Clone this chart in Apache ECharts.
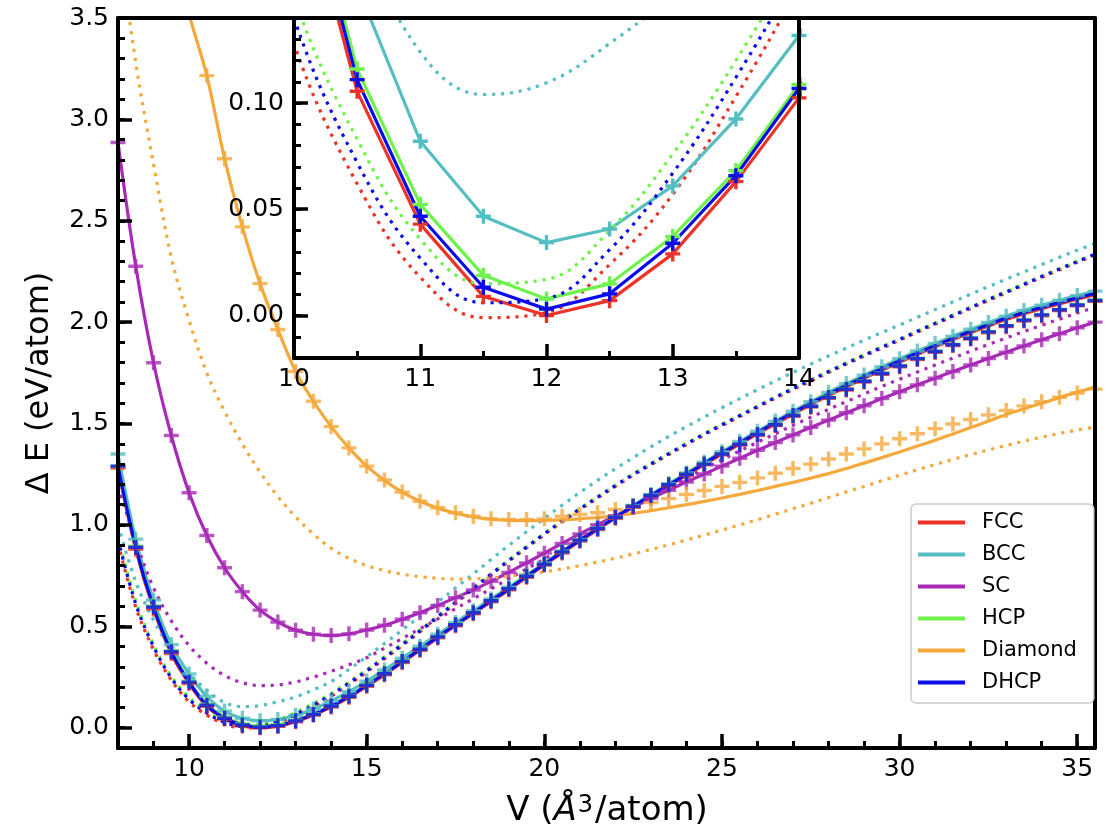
<!DOCTYPE html>
<html><head><meta charset="utf-8">
<script src="https://cdn.jsdelivr.net/npm/echarts@6/dist/echarts.min.js"></script>
<style>html,body{margin:0;padding:0;background:#fff}#c{width:1110px;height:834px}</style>
</head><body><div id="c"></div>
<script>
// Volume grid (Å^3/atom)
const V = [8, 8.5, 9, 9.5, 10, 10.5, 11, 11.5, 12, 12.5, 13, 13.5, 14, 14.5, 15, 15.5, 16, 16.5, 17, 17.5,
  18, 18.5, 19, 19.5, 20, 20.5, 21, 21.5, 22, 22.5, 23, 23.5, 24, 24.5, 25, 25.5, 26, 26.5, 27, 27.5,
  28, 28.5, 29, 29.5, 30, 30.5, 31, 31.5, 32, 32.5, 33, 33.5, 34, 34.5, 35, 35.5];

// Solid lines (main plot)
const FCC_fit = [1.28, 0.88, 0.585, 0.366, 0.218, 0.1055, 0.043, 0.009, 0.0, 0.007, 0.029, 0.063, 0.1024, 0.15, 0.204, 0.261, 0.321, 0.382, 0.443, 0.503, 0.562, 0.621, 0.68, 0.742, 0.802, 0.862, 0.92, 0.977, 1.033, 1.087, 1.14, 1.193, 1.245, 1.297, 1.349, 1.399, 1.449, 1.498, 1.546, 1.593, 1.638, 1.681, 1.723, 1.763, 1.803, 1.841, 1.878, 1.914, 1.948, 1.981, 2.013, 2.041, 2.066, 2.09, 2.113, 2.135];
const BCC_fit = [1.35, 0.93, 0.63, 0.41, 0.265, 0.155, 0.082, 0.0467, 0.0343, 0.0407, 0.061, 0.0925, 0.1318, 0.178, 0.23, 0.285, 0.343, 0.402, 0.461, 0.519, 0.577, 0.635, 0.693, 0.753, 0.812, 0.87, 0.928, 0.985, 1.041, 1.096, 1.15, 1.203, 1.256, 1.309, 1.361, 1.412, 1.462, 1.512, 1.561, 1.608, 1.654, 1.697, 1.739, 1.78, 1.82, 1.858, 1.895, 1.931, 1.965, 1.998, 2.03, 2.058, 2.084, 2.108, 2.131, 2.153];
const SC_fit = [2.886, 2.276, 1.80, 1.441, 1.159, 0.948, 0.789, 0.671, 0.58, 0.521, 0.481, 0.461, 0.455, 0.463, 0.482, 0.505, 0.535, 0.567, 0.603, 0.641, 0.679, 0.722, 0.766, 0.813, 0.861, 0.909, 0.956, 1.001, 1.045, 1.088, 1.13, 1.171, 1.212, 1.251, 1.29, 1.329, 1.368, 1.406, 1.444, 1.481, 1.517, 1.553, 1.588, 1.623, 1.657, 1.691, 1.724, 1.757, 1.789, 1.821, 1.852, 1.883, 1.913, 1.943, 1.972, 2.0];
const HCP_fit = [1.29, 0.895, 0.6, 0.38, 0.23, 0.116, 0.0523, 0.0189, 0.0078, 0.0149, 0.0372, 0.0682, 0.1087, 0.157, 0.211, 0.268, 0.328, 0.389, 0.45, 0.51, 0.569, 0.628, 0.687, 0.749, 0.808, 0.869, 0.927, 0.984, 1.04, 1.094, 1.147, 1.2, 1.252, 1.305, 1.357, 1.407, 1.457, 1.507, 1.555, 1.602, 1.647, 1.69, 1.732, 1.772, 1.812, 1.85, 1.887, 1.923, 1.957, 1.99, 2.022, 2.05, 2.075, 2.099, 2.122, 2.144];
const Diamond_fit = [null, null, null, 3.9, 3.52, 3.216, 2.806, 2.47, 2.19, 1.964, 1.757, 1.61, 1.485, 1.38, 1.29, 1.22, 1.162, 1.117, 1.083, 1.058, 1.04, 1.029, 1.023, 1.021, 1.022, 1.025, 1.03, 1.037, 1.045, 1.057, 1.07, 1.085, 1.1, 1.116, 1.133, 1.151, 1.17, 1.19, 1.21, 1.231, 1.253, 1.278, 1.305, 1.332, 1.36, 1.389, 1.418, 1.449, 1.48, 1.512, 1.545, 1.573, 1.6, 1.628, 1.655, 1.68];
const DHCP_fit = [1.29, 0.89, 0.595, 0.375, 0.225, 0.111, 0.0467, 0.0133, 0.003, 0.0102, 0.034, 0.0658, 0.1068, 0.155, 0.209, 0.266, 0.326, 0.387, 0.448, 0.508, 0.567, 0.626, 0.685, 0.747, 0.806, 0.867, 0.925, 0.982, 1.038, 1.092, 1.145, 1.198, 1.25, 1.303, 1.355, 1.405, 1.455, 1.505, 1.553, 1.6, 1.645, 1.688, 1.73, 1.77, 1.81, 1.848, 1.885, 1.921, 1.955, 1.988, 2.02, 2.048, 2.073, 2.097, 2.12, 2.142];

// "+" markers (reference points; also the solid lines of the inset)
const FCC_dft = [1.28, 0.88, 0.585, 0.366, 0.218, 0.1055, 0.043, 0.009, 0.0, 0.007, 0.029, 0.063, 0.1024, 0.15, 0.204, 0.261, 0.321, 0.382, 0.443, 0.503, 0.562, 0.621, 0.68, 0.742, 0.802, 0.862, 0.92, 0.977, 1.033, 1.087, 1.14, 1.193, 1.245, 1.296, 1.346, 1.394, 1.442, 1.49, 1.536, 1.581, 1.624, 1.665, 1.705, 1.743, 1.78, 1.816, 1.851, 1.885, 1.917, 1.948, 1.978, 2.006, 2.032, 2.057, 2.081, 2.103];
const BCC_dft = [1.35, 0.93, 0.63, 0.41, 0.265, 0.155, 0.082, 0.0467, 0.0343, 0.0407, 0.061, 0.0925, 0.1318, 0.178, 0.23, 0.285, 0.343, 0.402, 0.461, 0.519, 0.577, 0.635, 0.693, 0.753, 0.812, 0.87, 0.928, 0.985, 1.041, 1.096, 1.15, 1.203, 1.256, 1.309, 1.361, 1.412, 1.462, 1.512, 1.561, 1.608, 1.654, 1.697, 1.739, 1.78, 1.82, 1.858, 1.895, 1.931, 1.965, 1.998, 2.03, 2.058, 2.084, 2.108, 2.131, 2.153];
const SC_dft = [2.886, 2.276, 1.80, 1.441, 1.159, 0.948, 0.789, 0.671, 0.58, 0.521, 0.481, 0.461, 0.455, 0.463, 0.482, 0.505, 0.535, 0.567, 0.603, 0.641, 0.679, 0.722, 0.766, 0.813, 0.861, 0.909, 0.956, 1.001, 1.045, 1.088, 1.13, 1.171, 1.212, 1.251, 1.29, 1.329, 1.368, 1.406, 1.444, 1.481, 1.517, 1.553, 1.588, 1.623, 1.657, 1.691, 1.724, 1.757, 1.789, 1.821, 1.852, 1.883, 1.913, 1.943, 1.972, 2.0];
const HCP_dft = [1.29, 0.895, 0.6, 0.38, 0.23, 0.116, 0.0523, 0.0189, 0.0078, 0.0149, 0.0372, 0.0682, 0.1087, 0.157, 0.211, 0.268, 0.328, 0.389, 0.45, 0.51, 0.569, 0.628, 0.687, 0.749, 0.808, 0.869, 0.927, 0.984, 1.04, 1.094, 1.147, 1.2, 1.252, 1.302, 1.352, 1.4, 1.448, 1.496, 1.542, 1.587, 1.63, 1.671, 1.711, 1.749, 1.786, 1.822, 1.857, 1.891, 1.923, 1.954, 1.984, 2.012, 2.038, 2.063, 2.087, 2.109];
const Diamond_dft = [null, null, null, null, null, 3.216, 2.806, 2.47, 2.19, 1.964, 1.757, 1.61, 1.485, 1.38, 1.29, 1.222, 1.162, 1.117, 1.085, 1.06, 1.043, 1.03, 1.027, 1.027, 1.03, 1.043, 1.052, 1.06, 1.076, 1.09, 1.11, 1.13, 1.15, 1.17, 1.19, 1.21, 1.232, 1.255, 1.278, 1.30, 1.325, 1.35, 1.375, 1.40, 1.425, 1.45, 1.475, 1.498, 1.52, 1.543, 1.565, 1.587, 1.608, 1.63, 1.651, 1.67];
const DHCP_dft = [1.29, 0.89, 0.595, 0.375, 0.225, 0.111, 0.0467, 0.0133, 0.003, 0.0102, 0.034, 0.0658, 0.1068, 0.155, 0.209, 0.266, 0.326, 0.387, 0.448, 0.508, 0.567, 0.626, 0.685, 0.747, 0.806, 0.867, 0.925, 0.982, 1.038, 1.092, 1.145, 1.198, 1.25, 1.3, 1.35, 1.398, 1.446, 1.494, 1.54, 1.585, 1.628, 1.669, 1.709, 1.747, 1.784, 1.82, 1.855, 1.889, 1.921, 1.952, 1.982, 2.01, 2.036, 2.061, 2.085, 2.107];

// Dotted lines
const FCC_model = [0.91, 0.595, 0.385, 0.235, 0.128, 0.062, 0.018, -0.001, 0.0014, 0.024, 0.057, 0.103, 0.155, 0.213, 0.275, 0.34, 0.405, 0.473, 0.543, 0.613, 0.683, 0.753, 0.821, 0.887, 0.952, 1.015, 1.075, 1.133, 1.19, 1.245, 1.297, 1.347, 1.396, 1.444, 1.49, 1.535, 1.58, 1.625, 1.668, 1.71, 1.752, 1.793, 1.833, 1.872, 1.911, 1.951, 1.99, 2.029, 2.068, 2.107, 2.145, 2.183, 2.221, 2.258, 2.295, 2.331];
const BCC_model = [1.0, 0.72, 0.53, 0.385, 0.27, 0.185, 0.124, 0.104, 0.1095, 0.128, 0.152, 0.187, 0.228, 0.287, 0.35, 0.415, 0.482, 0.55, 0.619, 0.689, 0.759, 0.829, 0.899, 0.966, 1.033, 1.097, 1.16, 1.22, 1.277, 1.332, 1.385, 1.436, 1.485, 1.532, 1.578, 1.623, 1.667, 1.71, 1.752, 1.793, 1.833, 1.872, 1.911, 1.949, 1.986, 2.024, 2.062, 2.1, 2.138, 2.175, 2.212, 2.248, 2.284, 2.32, 2.355, 2.388];
const SC_model = [1.19, 0.92, 0.69, 0.527, 0.405, 0.318, 0.257, 0.222, 0.208, 0.211, 0.226, 0.25, 0.278, 0.31, 0.345, 0.392, 0.44, 0.488, 0.537, 0.587, 0.636, 0.685, 0.734, 0.783, 0.832, 0.882, 0.932, 0.983, 1.035, 1.085, 1.135, 1.183, 1.23, 1.276, 1.321, 1.365, 1.408, 1.45, 1.491, 1.531, 1.57, 1.608, 1.646, 1.683, 1.719, 1.754, 1.789, 1.823, 1.857, 1.89, 1.922, 1.954, 1.985, 2.015, 2.045, 2.074];
const HCP_model = [0.94, 0.625, 0.41, 0.255, 0.15, 0.083, 0.036, 0.015, 0.017, 0.04, 0.076, 0.12, 0.17, 0.226, 0.287, 0.35, 0.415, 0.482, 0.551, 0.621, 0.69, 0.759, 0.827, 0.893, 0.958, 1.021, 1.081, 1.139, 1.196, 1.251, 1.303, 1.353, 1.402, 1.45, 1.496, 1.541, 1.586, 1.631, 1.674, 1.716, 1.758, 1.799, 1.839, 1.878, 1.917, 1.957, 1.996, 2.035, 2.074, 2.113, 2.151, 2.189, 2.227, 2.264, 2.301, 2.337];
const Diamond_model = [3.92, 3.28, 2.78, 2.32, 2.01, 1.75, 1.56, 1.40, 1.26, 1.14, 1.04, 0.955, 0.885, 0.835, 0.80, 0.775, 0.757, 0.745, 0.737, 0.733, 0.734, 0.739, 0.747, 0.757, 0.769, 0.783, 0.799, 0.817, 0.836, 0.857, 0.879, 0.902, 0.926, 0.95, 0.975, 1.0, 1.026, 1.053, 1.08, 1.107, 1.135, 1.163, 1.19, 1.218, 1.245, 1.272, 1.298, 1.323, 1.347, 1.37, 1.392, 1.413, 1.433, 1.451, 1.468, 1.483];
const DHCP_model = [0.93, 0.61, 0.40, 0.245, 0.14, 0.072, 0.027, 0.006, 0.008, 0.031, 0.067, 0.112, 0.163, 0.22, 0.281, 0.345, 0.41, 0.478, 0.548, 0.618, 0.688, 0.757, 0.825, 0.891, 0.956, 1.019, 1.079, 1.137, 1.194, 1.249, 1.301, 1.351, 1.4, 1.448, 1.494, 1.539, 1.584, 1.629, 1.672, 1.714, 1.756, 1.797, 1.837, 1.876, 1.915, 1.955, 1.994, 2.033, 2.072, 2.111, 2.149, 2.187, 2.225, 2.262, 2.299, 2.335];

// Tick labels
const X_TICKS = [10, 15, 20, 25, 30, 35];
const Y_TICKS = [0, 0.5, 1.0, 1.5, 2.0, 2.5, 3.0, 3.5];
const INSET_Y_TICKS = [0, 0.05, 0.10];
const NAMES = ['FCC', 'BCC', 'SC', 'HCP', 'Diamond', 'DHCP'];

const FONT = 'DejaVu Sans';
const COLORS = {FCC:'#ec3327', BCC:'#55bec2', SC:'#a72bb6', HCP:'#6ff24c', Diamond:'#f5a83b', DHCP:'#0b0bea'};
const STRUCTS = [
  {name:'FCC', fit:FCC_fit, dft:FCC_dft, model:FCC_model, inset:true},
  {name:'BCC', fit:BCC_fit, dft:BCC_dft, model:BCC_model, inset:true},
  {name:'SC', fit:SC_fit, dft:SC_dft, model:SC_model, inset:false},
  {name:'HCP', fit:HCP_fit, dft:HCP_dft, model:HCP_model, inset:true},
  {name:'Diamond', fit:Diamond_fit, dft:Diamond_dft, model:Diamond_model, inset:false},
  {name:'DHCP', fit:DHCP_fit, dft:DHCP_dft, model:DHCP_model, inset:true}
];
function pts(arr){ const out=[]; V.forEach((v,i)=>{ if(arr[i]!==null) out.push([v, arr[i]]); }); return out; }
const PLUS = 'path://M5.8,0H9.2V5.8H15V9.2H9.2V15H5.8V9.2H0V5.8H5.8Z';
const DOT = [3.2, 5.8];
const LW = 3.2;

const series = [];
STRUCTS.forEach(s => {
  const c = COLORS[s.name];
  series.push({name:s.name, type:'line', xAxisIndex:0, yAxisIndex:0, data:pts(s.fit), smooth:0.35,
    showSymbol:false, lineStyle:{color:c, width:LW}, itemStyle:{color:c}, z:2, silent:true, clip:true});
  series.push({name:s.name+' ref', type:'scatter', xAxisIndex:0, yAxisIndex:0, data:pts(s.dft),
    symbol:PLUS, symbolSize:15, itemStyle:{color:c}, z:2, silent:true, clip:true});
  series.push({name:s.name+' model', type:'line', xAxisIndex:0, yAxisIndex:0, data:pts(s.model), smooth:0.35,
    showSymbol:false, lineStyle:{color:c, width:LW, type:DOT, cap:'butt'}, itemStyle:{color:c}, z:2, silent:true, clip:true});
});
STRUCTS.filter(s => s.inset).forEach(s => {
  const c = COLORS[s.name];
  series.push({name:s.name+' inset', type:'line', xAxisIndex:3, yAxisIndex:3, data:pts(s.dft),
    showSymbol:true, showAllSymbol:true, symbol:PLUS, symbolSize:15, lineStyle:{color:c, width:LW},
    itemStyle:{color:c, borderWidth:0}, z:11, silent:true, clip:true});
  series.push({name:s.name+' inset model', type:'line', xAxisIndex:3, yAxisIndex:3, data:pts(s.model), smooth:0.4,
    showSymbol:false, lineStyle:{color:c, width:LW, type:DOT, cap:'butt'}, itemStyle:{color:c}, z:11, silent:true, clip:true});
});

const black = '#000';
const lbl = {fontSize:25, fontFamily:FONT, color:black};
function frameAxis(grid, pos, min, max, z){
  return {gridIndex:grid, type:'value', min:min, max:max, position:pos, axisLine:{show:true, onZero:false, lineStyle:{color:black, width:4}},
    axisTick:{show:false}, axisLabel:{show:false}, splitLine:{show:false}, z:z};
}
function minorAxis(grid, pos, min, max, interval, z){
  return {gridIndex:grid, type:'value', min:min, max:max, interval:interval, position:pos, axisLine:{show:false, onZero:false},
    axisTick:{show:true, inside:true, length:7, lineStyle:{color:black, width:3}}, axisLabel:{show:false}, splitLine:{show:false}, z:z};
}

const option = {
  animation:false,
  backgroundColor:'#fff',
  grid:[
    {left:118, top:18, width:977, height:730, show:false, z:0},
    {left:294, top:18, width:505, height:340, show:true, backgroundColor:'#fff', borderWidth:0, z:10}
  ],
  xAxis:[
    {gridIndex:0, type:'value', min:8, max:35.5, position:'bottom',
      axisLine:{show:true, onZero:false, lineStyle:{color:black, width:4}},
      axisTick:{show:true, inside:true, length:14, lineStyle:{color:black, width:3.5}, customValues:X_TICKS},
      axisLabel:Object.assign({customValues:X_TICKS, margin:9}, lbl), splitLine:{show:false}, z:3},
    minorAxis(0, 'bottom', 8, 35.5, 1, 3),
    frameAxis(0, 'top', 8, 35.5, 3),
    {gridIndex:1, type:'value', min:10, max:14, interval:1, position:'bottom',
      axisLine:{show:true, onZero:false, lineStyle:{color:black, width:4}},
      axisTick:{show:true, inside:true, length:14, lineStyle:{color:black, width:3.5}},
      minorTick:{show:true, splitNumber:2, length:7, lineStyle:{color:black, width:3}},
      axisLabel:Object.assign({margin:9}, lbl), splitLine:{show:false}, minorSplitLine:{show:false}, z:12},
    frameAxis(1, 'top', 10, 14, 12)
  ],
  yAxis:[
    {gridIndex:0, type:'value', min:-0.1, max:3.5, position:'left',
      axisLine:{show:true, onZero:false, lineStyle:{color:black, width:4}},
      axisTick:{show:true, inside:true, length:14, lineStyle:{color:black, width:3.5}, customValues:Y_TICKS},
      axisLabel:Object.assign({customValues:Y_TICKS, margin:9, formatter:v => Number(v).toFixed(1)}, lbl), splitLine:{show:false}, z:3},
    minorAxis(0, 'left', -0.1, 3.5, 0.1, 3),
    frameAxis(0, 'right', -0.1, 3.5, 3),
    {gridIndex:1, type:'value', min:-0.02, max:0.14, position:'left',
      axisLine:{show:true, onZero:false, lineStyle:{color:black, width:4}},
      axisTick:{show:true, inside:true, length:14, lineStyle:{color:black, width:3.5}, customValues:INSET_Y_TICKS},
      axisLabel:Object.assign({customValues:INSET_Y_TICKS, margin:10, formatter:v => Number(v).toFixed(2)}, lbl), splitLine:{show:false}, z:12},
    minorAxis(1, 'left', -0.02, 0.14, 0.01, 12),
    frameAxis(1, 'right', -0.02, 0.14, 12)
  ],
  legend:{
    data:NAMES, left:911, top:504, orient:'vertical', icon:'rect', itemWidth:47, itemHeight:4, itemGap:11,
    padding:[8, 17, 10, 7], backgroundColor:'rgba(255,255,255,0.8)', borderColor:'#cccccc', borderWidth:1.5, borderRadius:5,
    textStyle:{fontSize:21, fontFamily:FONT, color:black, padding:[0,0,0,12]}, selectedMode:false, z:20
  },
  graphic:[
    {type:'text', x:607, y:811, z:30, style:{text:'V ({i|Å}{s|3}/atom)', align:'center', verticalAlign:'middle',
      fontSize:34, fontFamily:FONT, fill:black,
      rich:{i:{fontStyle:'italic', fontSize:34, fontFamily:FONT, fill:black}, s:{fontSize:24, fontFamily:FONT, fill:black, verticalAlign:'top', padding:[0,2,0,1]}}}},
    {type:'text', x:40, y:383, rotation:Math.PI/2, z:30, style:{text:'Δ E (eV/atom)', align:'center', verticalAlign:'middle',
      fontSize:32, fontFamily:FONT, fill:black}}
  ],
  series:series
};
const chart = echarts.init(document.getElementById('c'), null, {renderer:'canvas'});
chart.setOption(option);
</script>
</body></html>
